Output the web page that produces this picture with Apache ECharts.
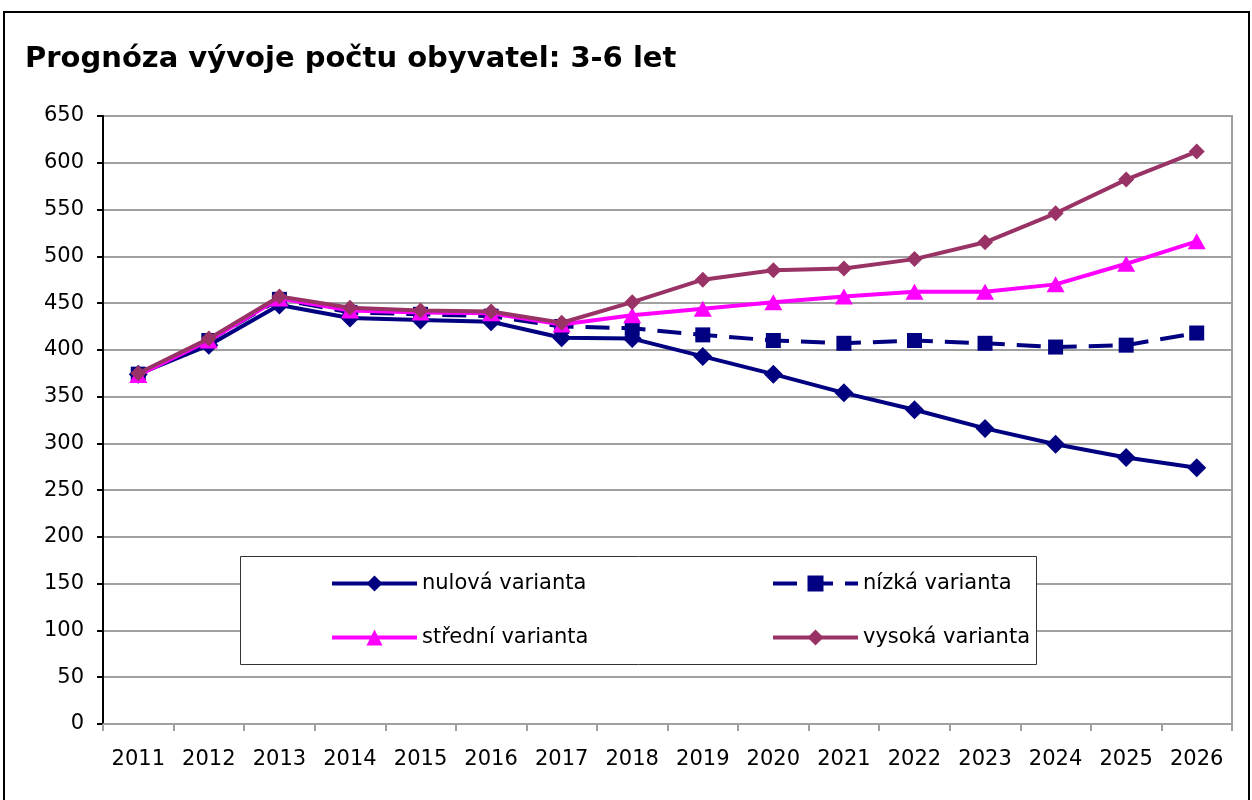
<!DOCTYPE html>
<html>
<head>
<meta charset="utf-8">
<script src="https://cdn.jsdelivr.net/npm/echarts@6/dist/echarts.min.js"></script>
<style>
html,body{margin:0;padding:0;background:#fff;}
#chart{width:1252px;height:800px;}
</style>
</head>
<body>
<div id="chart"></div>
<script>
var titleText = 'Prognóza vývoje počtu obyvatel: 3-6 let';
var years = ['2011','2012','2013','2014','2015','2016','2017','2018','2019','2020','2021','2022','2023','2024','2025','2026'];
var seriesNames = ['nulová varianta','nízká varianta','střední varianta','vysoká varianta'];
var nulova  = [374, 405, 448, 434, 432, 430, 413, 412, 393, 374, 354, 336, 316, 299, 285, 274];
var nizka   = [374, 410, 454, 440, 438, 436, 425, 423, 416, 410, 407, 410, 407, 403, 405, 418];
var stredni = [373, 410, 455, 442, 440, 439, 427, 437, 444, 451, 457, 462, 462, 470, 492, 516];
var vysoka  = [375, 412, 457, 445, 442, 441, 429, 451, 475, 485, 487, 497, 515, 546, 582, 612];

var FONT = '"DejaVu Sans", Verdana, sans-serif';
var chart = echarts.init(document.getElementById('chart'), null, {renderer:'canvas'});

function legendAt(name, left, top) {
  return {
    data: [name],
    left: left, top: top,
    orient: 'horizontal',
    padding: 0,
    itemWidth: 85, itemHeight: 20,
    itemGap: 0,
    lineStyle: {width: 4},
    textStyle: {fontFamily: FONT, fontSize: 21, color: '#000', padding: [0,0,0,0]},
    selectedMode: false,
    z: 10
  };
}

var option = {
  animation: false,
  backgroundColor: '#fff',
  title: {
    text: titleText,
    left: 25, top: 45, padding: 0,
    textStyle: {fontFamily: FONT, fontSize: 29, fontWeight: 'bold', color: '#000'}
  },
  graphic: [
    {type:'rect', shape:{x:4, y:12, width:1245, height:800}, style:{fill:'none', stroke:'#000', lineWidth:2}, z:100, silent:true},
    {type:'rect', shape:{x:240.5, y:556.5, width:796, height:108}, style:{fill:'#fff', stroke:'#333', lineWidth:1}, z:5, silent:true}
  ],
  legend: [
    legendAt(seriesNames[0], 330, 573),
    legendAt(seriesNames[1], 771, 573),
    legendAt(seriesNames[2], 330, 627),
    legendAt(seriesNames[3], 771, 627)
  ],
  grid: {left:103, right:20, top:116, bottom:76, show:true, borderColor:'#a0a0a0', borderWidth:2, containLabel:false},
  xAxis: {
    type: 'category',
    data: years,
    boundaryGap: true,
    axisLine: {lineStyle:{color:'#a0a0a0', width:2}},
    axisTick: {show:true, length:7, lineStyle:{color:'#a0a0a0', width:2}},
    axisLabel: {fontFamily: FONT, fontSize: 21, color:'#000', margin: 25, interval: 0},
    splitLine: {show:false}
  },
  yAxis: {
    type: 'value',
    min: 0, max: 650, interval: 50,
    axisLine: {show:true, lineStyle:{color:'#000', width:2}},
    axisTick: {show:true, length:6, lineStyle:{color:'#000', width:2}},
    axisLabel: {fontFamily: FONT, fontSize: 21, color:'#000', margin: 19},
    splitLine: {show:true, lineStyle:{color:'#a0a0a0', width:2}}
  },
  series: [
    {name: seriesNames[0], type:'line', data: nulova, symbol:'diamond', symbolSize:[19,19],
     lineStyle:{color:'#000080', width:4}, itemStyle:{color:'#000080'}, z:2},
    {name: seriesNames[1], type:'line', data: nizka, symbol:'rect', symbolSize:[15,15],
     lineStyle:{color:'#000080', width:4, type:[24,12]}, itemStyle:{color:'#000080'}, z:3},
    {name: seriesNames[2], type:'line', data: stredni, symbol:'triangle', symbolSize:[18,16],
     lineStyle:{color:'#ff00ff', width:4}, itemStyle:{color:'#ff00ff'}, z:4},
    {name: seriesNames[3], type:'line', data: vysoka, symbol:'diamond', symbolSize:[16,16],
     lineStyle:{color:'#993366', width:4}, itemStyle:{color:'#993366'}, z:5}
  ]
};
chart.setOption(option);
</script>
</body>
</html>
